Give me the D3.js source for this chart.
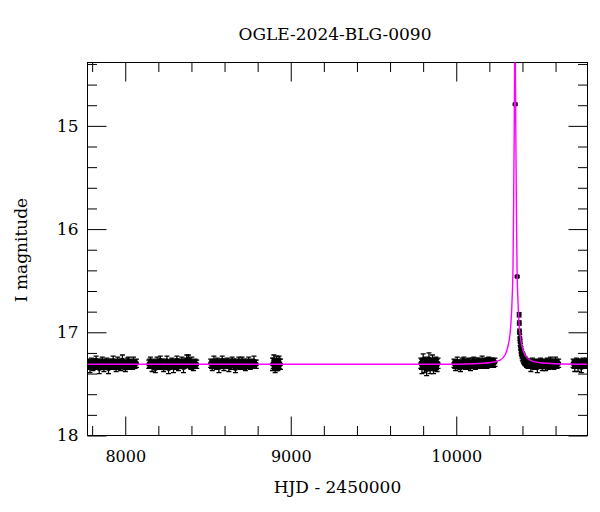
<!DOCTYPE html>
<html>
<head>
<meta charset="utf-8">
<script src="https://cdn.jsdelivr.net/npm/d3@7"></script>
<style>
	body { margin: 0; background: #fff; }
	svg text { font-family: "DejaVu Serif", serif; fill: #000; }
	.axis line { stroke: #000; stroke-width: 1; }
	.axis .domain { display: none; }
</style>
</head>
<body>
<svg id="chart" width="600" height="512"></svg>
<script>
// ---- data: OGLE photometry, one list per observing season [HJD-2450000, I mag, error]
var season2017 = [[7778,17.30,.04],[7783,17.32,.04],[7787,17.34,.05],[7792,17.31,.04],[7796,17.29,.04],[7801,17.31,.04],[7805,17.33,.04],[7810,17.30,.04],[7815,17.31,.05],[7820,17.32,.04],[7824,17.27,.04],[7829,17.31,.04],[7833,17.32,.04],[7838,17.30,.04],[7843,17.35,.05],[7848,17.31,.04],[7852,17.30,.04],[7857,17.32,.04],[7861,17.28,.04],[7866,17.31,.04],[7871,17.33,.05],[7876,17.30,.04],[7880,17.31,.04],[7885,17.32,.04],[7889,17.29,.04],[7894,17.31,.04],[7899,17.35,.05],[7904,17.31,.04],[7908,17.30,.04],[7913,17.31,.04],[7917,17.32,.04],[7922,17.30,.04],[7927,17.28,.05],[7932,17.32,.04],[7936,17.31,.04],[7941,17.30,.04],[7945,17.34,.04],[7950,17.31,.04],[7955,17.29,.05],[7960,17.32,.04],[7964,17.30,.04],[7969,17.31,.04],[7973,17.33,.04],[7978,17.30,.04],[7983,17.27,.05],[7988,17.31,.04],[7992,17.31,.04],[7997,17.32,.04],[8001,17.34,.04],[8006,17.31,.04],[8011,17.30,.05],[8016,17.32,.04],[8020,17.28,.04],[8025,17.31,.04],[8030,17.32,.04],[8035,17.30,.04],[8040,17.31,.04],[8045,17.32,.04],[8050,17.29,.05],[8055,17.31,.04],[8060,17.31,.04],[8068,17.30,.04]];
var season2018 = [[8142,17.31,.04],[8147,17.30,.04],[8152,17.28,.04],[8157,17.31,.04],[8162,17.33,.05],[8167,17.31,.04],[8172,17.30,.04],[8177,17.32,.04],[8182,17.35,.04],[8187,17.31,.04],[8192,17.29,.05],[8197,17.31,.04],[8202,17.32,.04],[8207,17.30,.04],[8212,17.27,.04],[8217,17.31,.04],[8222,17.31,.05],[8227,17.32,.04],[8232,17.34,.04],[8237,17.31,.04],[8242,17.30,.04],[8247,17.32,.04],[8252,17.28,.05],[8257,17.31,.04],[8262,17.35,.05],[8267,17.32,.04],[8272,17.31,.04],[8277,17.30,.04],[8282,17.29,.04],[8287,17.31,.04],[8292,17.34,.05],[8297,17.31,.04],[8302,17.30,.04],[8307,17.32,.04],[8312,17.27,.04],[8317,17.30,.04],[8322,17.32,.05],[8327,17.31,.04],[8332,17.31,.04],[8337,17.30,.04],[8342,17.28,.04],[8347,17.31,.04],[8352,17.34,.05],[8357,17.31,.04],[8362,17.30,.04],[8367,17.29,.04],[8372,17.27,.05],[8377,17.30,.04],[8382,17.26,.04],[8387,17.30,.04],[8392,17.31,.04],[8397,17.32,.04],[8402,17.29,.05],[8407,17.31,.04],[8412,17.33,.04],[8417,17.31,.04],[8422,17.30,.04],[8427,17.31,.04],[8432,17.31,.04]];
var season2019 = [[8516,17.30,.04],[8521,17.31,.04],[8526,17.33,.04],[8531,17.31,.04],[8536,17.28,.05],[8541,17.30,.04],[8546,17.31,.04],[8551,17.32,.04],[8556,17.29,.04],[8561,17.31,.04],[8566,17.34,.05],[8571,17.31,.04],[8576,17.30,.04],[8581,17.31,.04],[8586,17.27,.04],[8591,17.30,.04],[8596,17.32,.05],[8601,17.31,.04],[8606,17.31,.04],[8611,17.30,.04],[8616,17.29,.04],[8621,17.31,.04],[8626,17.33,.05],[8631,17.31,.04],[8636,17.30,.04],[8641,17.32,.04],[8646,17.28,.04],[8651,17.30,.04],[8656,17.31,.05],[8661,17.32,.04],[8666,17.35,.04],[8671,17.31,.04],[8676,17.30,.04],[8681,17.31,.04],[8686,17.29,.05],[8691,17.31,.04],[8696,17.32,.04],[8701,17.30,.04],[8706,17.28,.04],[8711,17.31,.04],[8716,17.31,.05],[8721,17.32,.04],[8726,17.33,.04],[8731,17.31,.04],[8736,17.30,.04],[8741,17.31,.04],[8746,17.29,.05],[8751,17.31,.04],[8756,17.32,.04],[8761,17.31,.04],[8766,17.30,.04],[8772,17.31,.04],[8778,17.28,.05],[8785,17.31,.04],[8792,17.31,.04]];
var season2020 = [[8890,17.31,.06],[8894,17.30,.05],[8898,17.27,.05],[8902,17.31,.05],[8906,17.33,.06],[8910,17.31,.05],[8914,17.30,.07],[8918,17.31,.05],[8922,17.32,.05],[8926,17.30,.05],[8930,17.29,.06],[8934,17.31,.05],[8938,17.31,.05]];
var season2022 = [[9786,17.30,.05],[9790,17.31,.05],[9793,17.34,.06],[9797,17.31,.05],[9800,17.27,.06],[9804,17.30,.05],[9807,17.32,.07],[9811,17.31,.05],[9814,17.29,.05],[9818,17.31,.05],[9821,17.36,.06],[9825,17.32,.05],[9828,17.31,.05],[9832,17.30,.05],[9835,17.26,.06],[9839,17.31,.05],[9842,17.33,.07],[9846,17.31,.05],[9849,17.30,.05],[9853,17.32,.05],[9856,17.28,.06],[9860,17.31,.05],[9863,17.35,.05],[9867,17.31,.05],[9870,17.31,.06],[9874,17.30,.05],[9877,17.29,.05],[9881,17.31,.05],[9884,17.32,.06],[9890,17.30,.05]];
var season2023 = [[9986,17.30,.04],[9991,17.31,.04],[9996,17.33,.04],[10001,17.31,.04],[10006,17.29,.05],[10011,17.31,.04],[10016,17.31,.04],[10021,17.32,.04],[10026,17.34,.04],[10031,17.31,.04],[10036,17.30,.05],[10041,17.31,.04],[10046,17.28,.04],[10051,17.30,.04],[10056,17.32,.04],[10061,17.31,.04],[10066,17.31,.05],[10071,17.30,.04],[10076,17.29,.04],[10081,17.31,.04],[10086,17.33,.04],[10091,17.31,.04],[10096,17.30,.05],[10101,17.31,.04],[10106,17.28,.04],[10111,17.30,.04],[10116,17.32,.04],[10121,17.31,.04],[10126,17.30,.05],[10131,17.31,.04],[10136,17.29,.04],[10141,17.30,.04],[10146,17.31,.04],[10151,17.30,.04],[10156,17.28,.05],[10161,17.30,.04],[10166,17.31,.04],[10171,17.30,.04],[10176,17.29,.04],[10181,17.30,.04],[10186,17.30,.05],[10191,17.29,.04],[10196,17.28,.04],[10201,17.30,.04],[10206,17.30,.04],[10211,17.29,.04],[10216,17.29,.04],[10221,17.30,.04],[10226,17.30,.04],[10234,17.29,.04]];
var season2024 = [[10356,14.79,.01],[10368,16.46,.01],[10380,16.83,.02],[10381,16.91,.02],[10382,16.99,.02],[10384,17.05,.03],[10386,17.10,.03],[10388,17.14,.03],[10391,17.17,.03],[10393,17.19,.03],[10395,17.20,.03],[10397,17.22,.03],[10399,17.23,.04],[10402,17.24,.04],[10404,17.25,.04],[10407,17.26,.04],[10410,17.27,.04],[10414,17.28,.04],[10417,17.28,.04],[10421,17.29,.04],[10425,17.30,.04],[10429,17.30,.04],[10433,17.31,.04],[10437,17.31,.04],[10442,17.30,.04],[10446,17.31,.04],[10451,17.33,.05],[10455,17.31,.04],[10460,17.29,.04],[10465,17.31,.04],[10470,17.32,.04],[10475,17.31,.04],[10480,17.30,.04],[10485,17.31,.04],[10490,17.34,.05],[10495,17.31,.04],[10500,17.31,.04],[10505,17.30,.04],[10510,17.29,.04],[10515,17.31,.04],[10520,17.32,.05],[10525,17.31,.04],[10530,17.30,.04],[10535,17.31,.04],[10540,17.33,.04],[10545,17.31,.04],[10550,17.29,.04],[10555,17.30,.04],[10560,17.31,.05],[10565,17.31,.04],[10570,17.28,.04],[10575,17.30,.04],[10580,17.30,.04],[10585,17.31,.04],[10590,17.32,.04],[10595,17.31,.04],[10600,17.29,.05],[10605,17.30,.04],[10610,17.31,.04],[10619,17.30,.04]];
var season2025 = [[10706,17.30,.04],[10711,17.31,.04],[10716,17.33,.05],[10721,17.31,.04],[10726,17.29,.04],[10731,17.31,.04],[10736,17.32,.06],[10741,17.31,.04],[10746,17.30,.04],[10751,17.31,.04],[10756,17.34,.05],[10761,17.31,.04],[10766,17.29,.04],[10771,17.30,.04],[10776,17.31,.04],[10782,17.31,.04],[10788,17.30,.05]];

// model light curve
var modelHJD = [7772, 9900, 10105, 10205, 10265, 10295, 10310, 10326, 10337, 10343, 10347, 10350, 10352, 10353.5, 10355, 10356.5, 10358, 10360, 10363, 10367, 10373, 10384, 10400, 10415, 10445, 10505, 10605, 10793];
var modelMag = [17.31, 17.31, 17.305, 17.295, 17.27, 17.22, 17.15, 17.0, 16.7, 16.35, 15.7, 15.1, 14.6, 14.2, 13.9, 14.2, 14.6, 15.1, 15.7, 16.35, 16.7, 17.0, 17.15, 17.22, 17.27, 17.295, 17.305, 17.31];

var xMajor = [8000, 9000, 10000];
var yMajor = [15, 16, 17, 18];
var xDomain = [7772, 10793];
var yDomain = [18, 14.386];

var title = "OGLE-2024-BLG-0090";
var xTitle = "HJD - 2450000";
var yTitle = "I magnitude";

(function(){
	var svg = d3.select("#chart");
	var left = 87.5, right = 587.5, top = 62.5, bottom = 435.5;
	var majorLen = 19, minorLen = 9.5;
	var capW = 2.5;

	var x = d3.scaleLinear().domain(xDomain).range([left, right]);
	var y = d3.scaleLinear().domain(yDomain).range([bottom, top]);

	var xMinor = d3.range(7800, 10800, 200).filter(function(v){ return xMajor.indexOf(v) < 0; });
	var yMinor = d3.range(14.4, 18.0, 0.2).map(function(v){ return +v.toFixed(1); })
		.filter(function(v){ return yMajor.indexOf(v) < 0; });

	// ------ axes, ticks pointing inwards on all four sides
	function addAxis(axisFn, scale, pos, major, minor, labels, pad){
		var g = svg.append("g").attr("class","axis").attr("transform", pos);
		g.call(axisFn(scale).tickValues(major).tickSize(-majorLen).tickSizeOuter(0)
			.tickPadding(pad).tickFormat(labels ? d3.format("d") : ""));
		var gm = svg.append("g").attr("class","axis").attr("transform", pos);
		gm.call(axisFn(scale).tickValues(minor).tickSize(-minorLen).tickSizeOuter(0).tickFormat(""));
		return g;
	}
	var gb = addAxis(d3.axisBottom, x, "translate(0,"+bottom+")", xMajor, xMinor, true, 15);
	addAxis(d3.axisTop, x, "translate(0,"+top+")", xMajor, xMinor, false, 0);
	var gl = addAxis(d3.axisLeft, y, "translate("+left+",0)", yMajor, yMinor, true, 9);
	addAxis(d3.axisRight, y, "translate("+right+",0)", yMajor, yMinor, false, 0);

	gb.selectAll("text").style("font-size","16px");
	gl.selectAll("text").style("font-size","17px");

	svg.append("rect")
		.attr("x",left).attr("y",top)
		.attr("width",right-left).attr("height",bottom-top)
		.attr("fill","none").attr("stroke","#000").attr("stroke-width",1);

	svg.append("defs").append("clipPath").attr("id","plotclip")
		.append("rect")
		.attr("x",left).attr("y",top)
		.attr("width",right-left).attr("height",bottom-top);

	var plot = svg.append("g").attr("clip-path","url(#plotclip)");

	// ------ photometry with capped error bars
	var points = d3.merge([season2017, season2018, season2019, season2020, season2022, season2023, season2024, season2025]);

	plot.append("g")
		.attr("stroke","#000").attr("stroke-width",1.3).attr("fill","none")
		.selectAll("path")
		.data(points).enter().append("path")
		.attr("d",function(d){
			var cx = x(d[0]), y1 = y(d[1]-d[2]), y2 = y(d[1]+d[2]);
			return "M"+cx+","+y1+"V"+y2
				+"M"+(cx-capW)+","+y1+"H"+(cx+capW)
				+"M"+(cx-capW)+","+y2+"H"+(cx+capW);
		});

	plot.append("g").selectAll("circle")
		.data(points).enter().append("circle")
		.attr("cx",function(d){ return x(d[0]); })
		.attr("cy",function(d){ return y(d[1]); })
		.attr("r",2.5)
		.attr("fill","#000");

	// ------ model curve on top
	var model = modelHJD.map(function(t,i){ return [t, modelMag[i]]; });
	var line = d3.line()
		.x(function(d){ return x(d[0]); })
		.y(function(d){ return y(d[1]); })
		.curve(d3.curveMonotoneX);
	plot.append("path")
		.attr("d", line(model))
		.attr("fill","none")
		.attr("stroke","#ff00ff")
		.attr("stroke-width",1.4);

	// ------ labels
	svg.append("text")
		.attr("x",335).attr("y",40)
		.attr("text-anchor","middle")
		.style("font-size","17px")
		.text(title);
	svg.append("text")
		.attr("x",(left+right)/2).attr("y",493)
		.attr("text-anchor","middle")
		.style("font-size","17px")
		.text(xTitle);
	svg.append("text")
		.attr("transform","translate(27,250) rotate(-90)")
		.attr("text-anchor","middle")
		.style("font-size","17px")
		.text(yTitle);
})();
</script>
</body>
</html>
